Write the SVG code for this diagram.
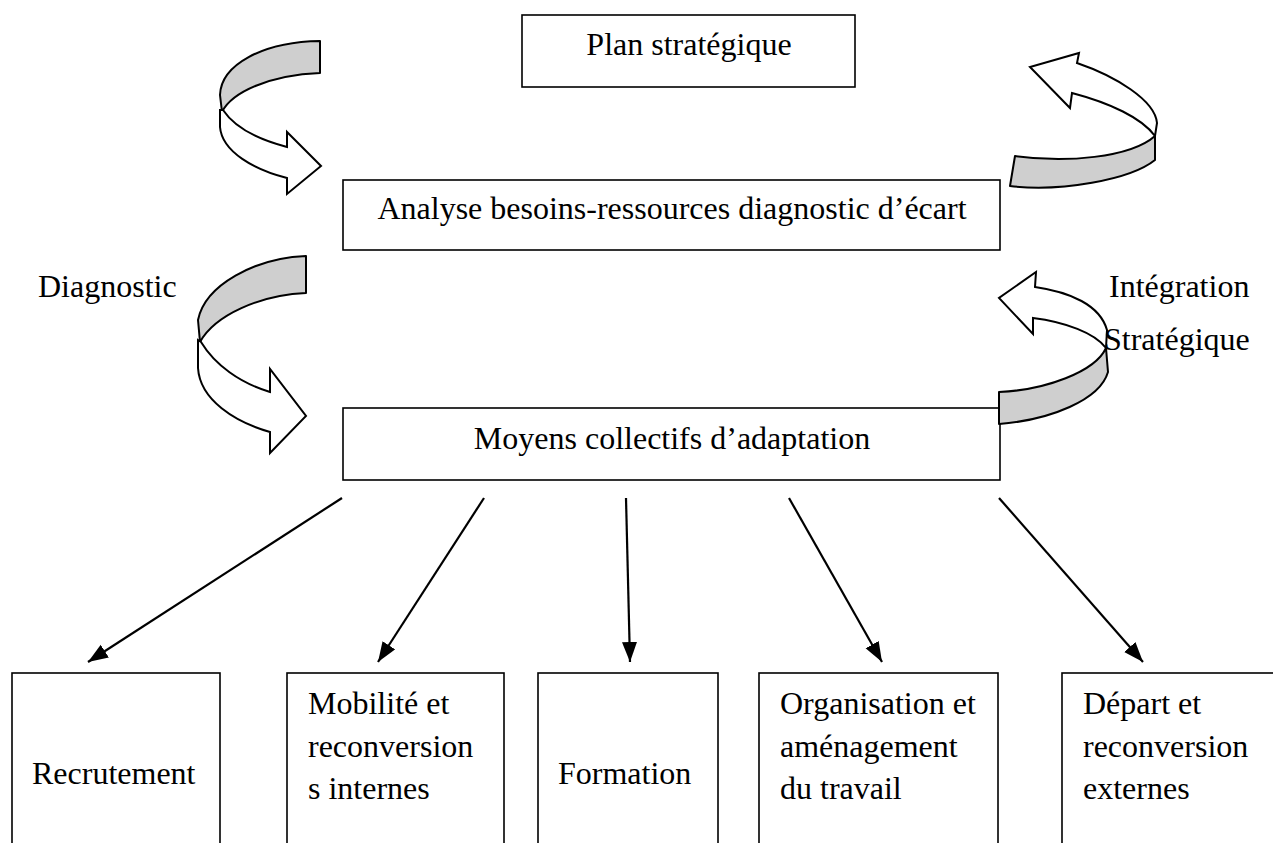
<svg xmlns="http://www.w3.org/2000/svg" width="1273" height="843" viewBox="0 0 1273 843">
<style>
.box{fill:#fff;stroke:#000;stroke-width:1.6}
.t{font-family:"Liberation Serif","Times New Roman",serif;font-size:32px;fill:#000}
.m{text-anchor:middle}
.conn{stroke:#000;stroke-width:2.2;fill:none;marker-end:url(#ah)}
.back{fill:#cfcfcf;stroke:#000;stroke-width:2;stroke-linejoin:round}
.front{fill:#fff;stroke:#000;stroke-width:2;stroke-linejoin:miter}
</style>
<defs>
<marker id="ah" markerUnits="userSpaceOnUse" markerWidth="22" markerHeight="16" refX="20" refY="7.5" orient="auto">
<path d="M0,0 L20,7.5 L0,15 Z" fill="#000"/>
</marker>
</defs>
<rect width="1273" height="843" fill="#fff"/>

<g id="plan"><rect class="box" x="522" y="15" width="333" height="72"/><text class="t m" x="689" y="55">Plan stratégique</text></g>
<g id="analyse"><rect class="box" x="343" y="180" width="657" height="70"/><text class="t m" x="672" y="219">Analyse besoins-ressources diagnostic d’écart</text></g>
<g id="moyens"><rect class="box" x="343" y="408" width="657" height="72"/><text class="t m" x="672" y="449">Moyens collectifs d’adaptation</text></g>

<g id="labels">
<text class="t" x="38" y="297">Diagnostic</text>
<text class="t" x="1109" y="297">Intégration</text>
</g>

<g id="connectors">
<g id="curve-a">
<path class="back" d="M320,41 C262,42 221,65 220,95 L222,112 C232,92 270,75 320,73 Z"/>
<path class="front" d="M220,110 L220,127 C222,152 255,170 287,178 L287,194 L321,166 L287,132 L287,147 C260,140 235,128 223,110 Z"/>
</g>
<g id="curve-c">
<path class="back" d="M306,256 C255,258 205,285 198,320 L200,342 C215,315 260,295 306,293 Z"/>
<path class="front" d="M198,340 L198,368 C200,400 235,422 270,432 L270,453 L306,416 L270,369 L270,392 C240,383 215,365 201,342 Z"/>
</g>
<g id="curve-b">
<path class="back" d="M1015,156 C1065,163 1130,158 1155,136 L1155,160 C1130,180 1060,192 1010,186 Z"/>
<path class="front" d="M1072,93 C1110,103 1142,118 1155,136 L1157,123 C1155,100 1115,76 1077,63 L1079,53 L1030,67 L1070,108 Z"/>
</g>
<g id="curve-d">
<path class="back" d="M999,392 C1045,390 1095,372 1106,348 L1108,372 C1100,400 1050,420 999,424 Z"/>
<path class="front" d="M1033,318 C1065,322 1095,333 1106,348 L1107,330 C1100,305 1070,292 1035,287 L1036,272 L999,298 L1033,334 Z"/>
</g>
<line class="conn" x1="342" y1="498" x2="88" y2="662"/>
<line class="conn" x1="484" y1="498" x2="378" y2="662"/>
<line class="conn" x1="626" y1="498" x2="630" y2="662"/>
<line class="conn" x1="789" y1="498" x2="882" y2="662"/>
<line class="conn" x1="999" y1="498" x2="1143" y2="662"/>
</g>

<g id="strategique-label"><text class="t" x="1104" y="350">Stratégique</text></g>

<g id="recrutement"><rect class="box" x="12" y="673" width="208" height="200"/><text class="t" x="32" y="784">Recrutement</text></g>
<g id="mobilite"><rect class="box" x="287" y="673" width="217" height="200"/><text class="t" x="308" y="714">Mobilité et</text><text class="t" x="308" y="757">reconversion</text><text class="t" x="308" y="799">s internes</text></g>
<g id="formation"><rect class="box" x="538" y="673" width="180" height="200"/><text class="t" x="558" y="784">Formation</text></g>
<g id="organisation"><rect class="box" x="759" y="673" width="239" height="200"/><text class="t" x="780" y="714">Organisation et</text><text class="t" x="780" y="757">aménagement</text><text class="t" x="780" y="799">du travail</text></g>
<g id="depart"><rect class="box" x="1062" y="673" width="240" height="200"/><text class="t" x="1083" y="714">Départ et</text><text class="t" x="1083" y="757">reconversion</text><text class="t" x="1083" y="799">externes</text></g>
</svg>
